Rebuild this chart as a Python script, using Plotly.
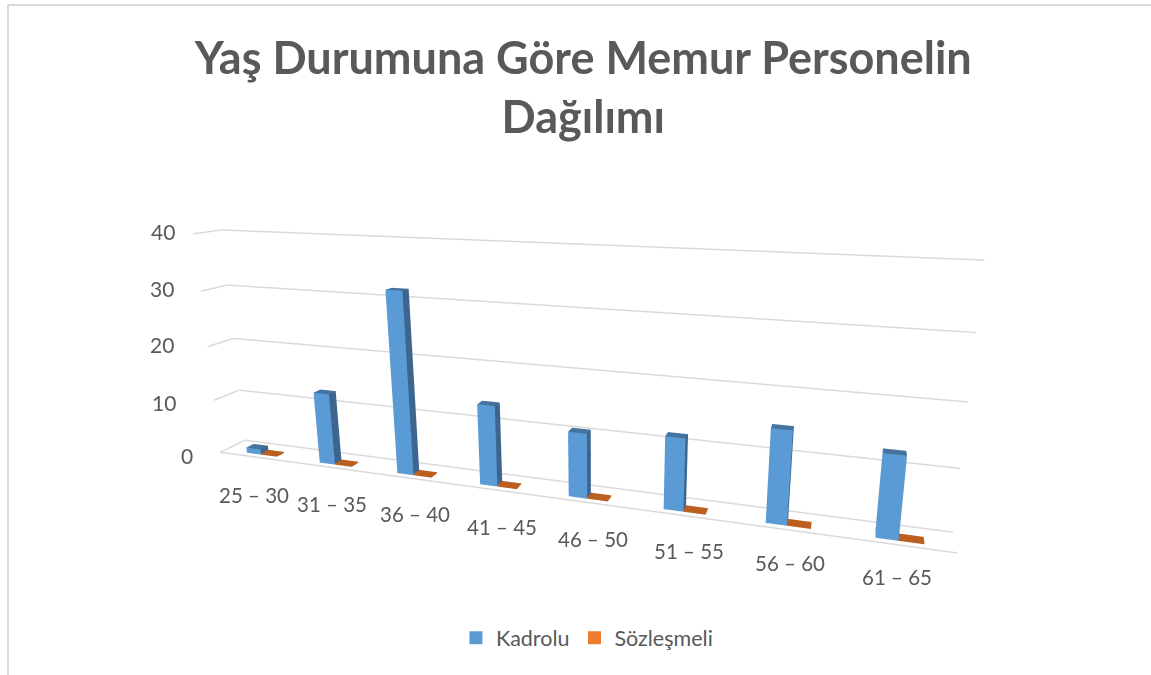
import plotly.graph_objects as go

categories = ["25 – 30", "31 – 35", "36 – 40", "41 – 45", "46 – 50", "51 – 55", "56 – 60", "61 – 65"]
kadrolu = [1, 13, 32, 14, 11, 12, 15, 13]
sozlesmeli = [0.2, 0.2, 0.2, 0.2, 0.2, 0.2, 0.2, 0.2]
z_ticks = [0, 10, 20, 30, 40]
title = "Yaş Durumuna Göre Memur Personelin<br>Dağılımı"

BLUE, BLUE_TOP, BLUE_SIDE, ORANGE, ORANGE_LEG = "#5B9BD5", "#44739F", "#3C6690", "#BA5F1F", "#ED7D31"
GRID = "#D9D9D9"
TEXT = "#595959"

# label nudges in pixels, matching the reference's free-standing labels
tick_xshift = [-25, -36, -31, -25, -17]
tick_yshift = [-3, -2, 2, 3, 2]
cat_xshift = [-2, 2, 6, 9, 9, 8, 5, -1]
cat_yshift = [-38, -37, -36, -37, -37, -36, -34, -32]

fig = go.Figure()


def bar(x0, x1, y0, y1, h, col_front, col_top, col_side):
    xs = [x0, x1, x1, x0, x0, x1, x1, x0]
    ys = [y0, y0, y1, y1, y0, y0, y1, y1]
    zs = [0, 0, 0, 0, h, h, h, h]
    i = [0, 0, 0, 0, 4, 4, 1, 1, 0, 0, 3, 3]
    j = [1, 2, 1, 5, 5, 6, 2, 6, 3, 7, 2, 6]
    k = [2, 3, 5, 4, 6, 7, 6, 5, 7, 4, 6, 7]
    fc = [col_side, col_side, col_front, col_front, col_top, col_top,
          col_side, col_side, col_front, col_front, col_side, col_side]
    fig.add_trace(go.Mesh3d(x=xs, y=ys, z=zs, i=i, j=j, k=k, facecolor=fc, flatshading=True,
                            lighting=dict(ambient=1, diffuse=0, specular=0, fresnel=0),
                            showlegend=False, hoverinfo="skip"))


for idx, (a, b) in enumerate(zip(kadrolu, sozlesmeli)):
    bar(idx + .31, idx + .51, .2, .5, a, BLUE, BLUE_TOP, BLUE_SIDE)
    bar(idx + .51, idx + .73, .2, .5, b, ORANGE, ORANGE, ORANGE)

n = len(categories)
grid_line = dict(color=GRID, width=3)
for t in z_ticks[1:]:
    fig.add_trace(go.Scatter3d(x=[0, 0, n], y=[0, 1, 1], z=[t, t, t], mode="lines", line=grid_line,
                               showlegend=False, hoverinfo="skip"))
fig.add_trace(go.Scatter3d(x=[n, 0, 0, n], y=[0, 0, 1, 1], z=[0, 0, 0, 0], mode="lines", line=grid_line,
                           showlegend=False, hoverinfo="skip"))

ann = [dict(x=0, y=0, z=t, text=str(t), showarrow=False, xanchor="right", xshift=tick_xshift[i],
            yshift=tick_yshift[i], font=dict(size=21, color=TEXT)) for i, t in enumerate(z_ticks)]
ann += [dict(x=i + .5, y=0, z=0, text=c, showarrow=False, xshift=cat_xshift[i], yshift=cat_yshift[i],
             font=dict(size=20.5, color=TEXT)) for i, c in enumerate(categories)]

fig.add_trace(go.Scatter(x=[None], y=[None], mode="markers", name="Kadrolu",
                         marker=dict(symbol="square", size=13, color=BLUE)))
fig.add_trace(go.Scatter(x=[None], y=[None], mode="markers", name="Sözleşmeli",
                         marker=dict(symbol="square", size=13, color=ORANGE_LEG)))

hidden = dict(visible=False)
fig.update_layout(
    width=1159, height=683, margin=dict(l=8, r=0, t=8, b=0), paper_bgcolor="white", plot_bgcolor="rgba(0,0,0,0)",
    font=dict(family="Lato", color=TEXT),
    xaxis=dict(visible=False), yaxis=dict(visible=False),
    title=dict(text=title, x=(8 + .4998 * 1151) / 1159, xanchor="center", y=1 - 74.15 / 683, yanchor="middle",
               font=dict(size=45, color=TEXT, family="Lato", weight="bold")),
    legend=dict(orientation="h", x=0.503, xanchor="center", y=0.067, yanchor="middle", font=dict(size=21.5)),
    scene=dict(xaxis=dict(hidden, range=[0, n]), yaxis=dict(hidden, range=[0, 1]), zaxis=dict(hidden, range=[0, 40]),
               aspectmode="manual", aspectratio=dict(x=2.6, y=0.1348, z=0.8306),
               domain=dict(x=[0.027, 1], y=[0, 1]),
               camera=dict(eye=dict(x=0.9546, y=-2.4120, z=0.7409), center=dict(x=0.1646, y=0.0940, z=0.0770),
                           up=dict(x=0, y=0, z=1), projection=dict(type="perspective")),
               annotations=ann),
)
top = 1 + 3 / 675
fig.add_shape(type="line", xref="paper", yref="paper", x0=0, x1=1, y0=top, y1=top, line=dict(color=GRID, width=2))
fig.add_shape(type="line", xref="paper", yref="paper", x0=0, x1=0, y0=-0.02, y1=top, line=dict(color=GRID, width=2))
fig.write_html("out.html", config=dict(displayModeBar=False),
               post_script="document.body.style.margin='0';document.body.style.overflow='hidden';"
                           "document.documentElement.style.overflow='hidden';")
